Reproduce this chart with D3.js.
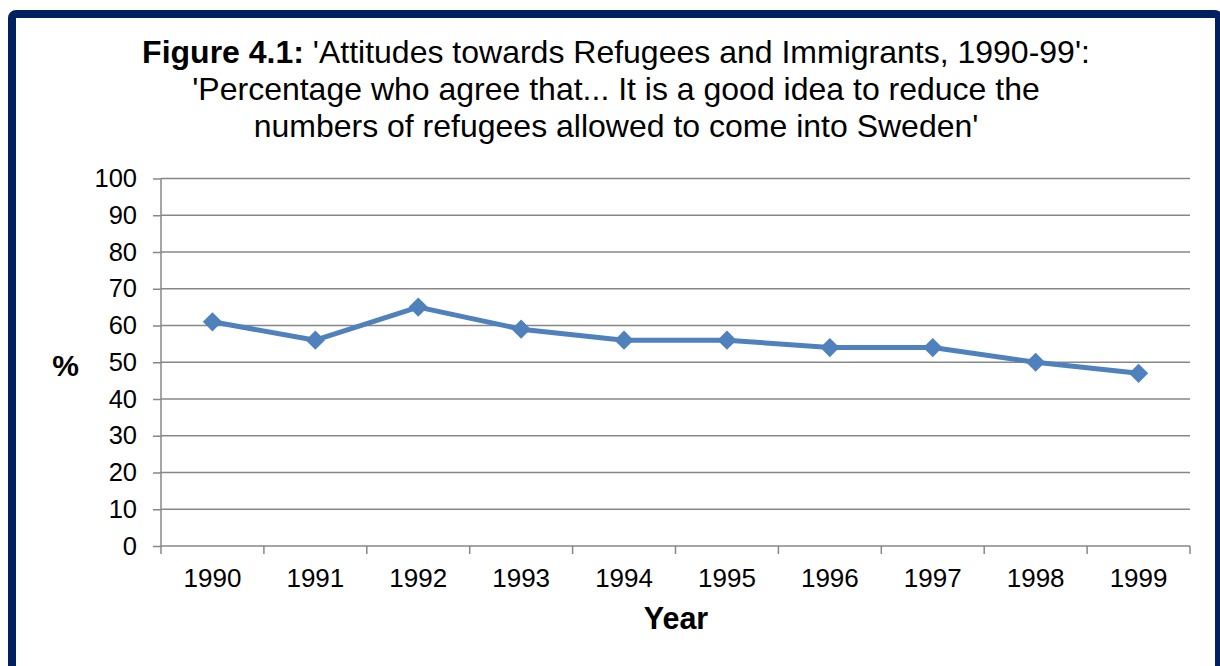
<!DOCTYPE html>
<html><head><meta charset="utf-8">
<script src="https://cdn.jsdelivr.net/npm/d3@7"></script>
<style>
html,body{margin:0;padding:0;background:#fff;}
svg{display:block;font-family:"Liberation Sans",Arial,sans-serif;}
</style></head>
<body><svg id="c" width="1220" height="666"></svg>
<script>
const years = ["1990","1991","1992","1993","1994","1995","1996","1997","1998","1999"];
const values = [61, 56, 65, 59, 56, 56, 54, 54, 50, 47];
const yTicks = [0,10,20,30,40,50,60,70,80,90,100];

(function(){
const svg = d3.select("#c");
// frame
svg.append("rect").attr("x",12).attr("y",14).attr("width",1207).attr("height",670)
  .attr("rx",4).attr("fill","#fff").attr("stroke","#002060").attr("stroke-width",8);

const pL=161, pR=1190, pT=178.5, pB=546;
const x = d3.scaleBand().domain(years).range([pL,pR]);
const y = d3.scaleLinear().domain([0,100]).range([pB,pT]);

// title
const t = svg.append("text").attr("text-anchor","middle").attr("font-size",32).attr("fill","#000");
const l1 = t.append("tspan").attr("x",616).attr("y",63);
l1.append("tspan").attr("font-weight","bold").text("Figure 4.1:");
l1.append("tspan").text(" 'Attitudes towards Refugees and Immigrants, 1990-99':");
t.append("tspan").attr("x",616).attr("y",100).text("'Percentage who agree that... It is a good idea to reduce the");
t.append("tspan").attr("x",616).attr("y",137).text("numbers of refugees allowed to come into Sweden'");

// gridlines
svg.append("g").selectAll("line").data(yTicks.filter(d=>d>0)).join("line")
  .attr("x1",pL).attr("x2",pR).attr("y1",d=>y(d)).attr("y2",d=>y(d))
  .attr("stroke","#878787").attr("stroke-width",1.5);

// y axis
const ya = svg.append("g").attr("transform",`translate(${pL},0)`)
  .call(d3.axisLeft(y).tickValues(yTicks).tickSize(8).tickPadding(16));
ya.select(".domain").attr("stroke","#878787").attr("stroke-width",1.5).attr("d",`M0,${pB}V${pT}`);
ya.selectAll(".tick line").attr("stroke","#878787").attr("stroke-width",1.5);
ya.selectAll(".tick text").attr("font-size",25.5).attr("fill","#000").attr("font-family","Liberation Sans, Arial, sans-serif");

// x axis
const xa = svg.append("g").attr("transform",`translate(0,${pB})`)
  .call(d3.axisBottom(x).tickSize(0).tickPadding(22.5));
xa.select(".domain").attr("stroke","#878787").attr("stroke-width",1.5).attr("d",`M${pL},0H${pR}`);
xa.selectAll(".tick text").attr("font-size",26).attr("fill","#000").attr("font-family","Liberation Sans, Arial, sans-serif");
const bounds = years.map(d=>x(d)).concat([pR]);
svg.append("g").selectAll("line").data(bounds).join("line")
  .attr("x1",d=>d).attr("x2",d=>d).attr("y1",pB).attr("y2",pB+8)
  .attr("stroke","#878787").attr("stroke-width",1.5);

// axis titles
svg.append("text").attr("x",65.5).attr("y",376).attr("text-anchor","middle")
  .attr("font-size",30).attr("font-weight","bold").text("%");
svg.append("text").attr("x",676).attr("y",629).attr("text-anchor","middle")
  .attr("font-size",30.5).attr("font-weight","bold").text("Year");

// line
const cx = d=>x(d)+x.bandwidth()/2;
svg.append("path").datum(values.map((v,i)=>[cx(years[i]),y(v)]))
  .attr("d",d3.line()).attr("fill","none").attr("stroke","#4F81BD").attr("stroke-width",5)
  .attr("stroke-linejoin","round");
svg.append("g").selectAll("path").data(values).join("path")
  .attr("d",d3.symbol(d3.symbolSquare,185))
  .attr("transform",(d,i)=>`translate(${cx(years[i])},${y(d)}) rotate(45)`)
  .attr("fill","#4F81BD");
})();
</script></body></html>
